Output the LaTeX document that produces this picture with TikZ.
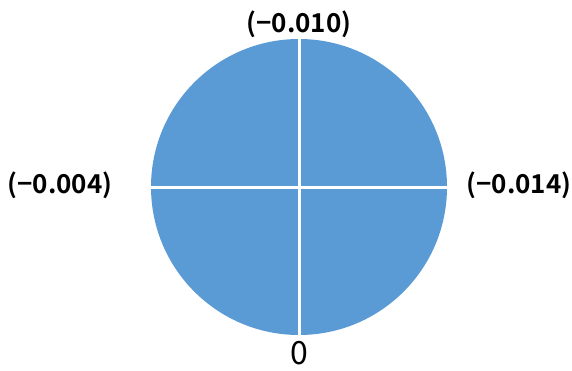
\documentclass[tikz,border=0pt]{standalone}
\usepackage{fontspec}
\newfontfamily\jpfont{Noto Sans CJK JP}[BoldFont={Noto Sans CJK JP Bold}]
\definecolor{pieblue}{HTML}{5B9BD5}
\begin{document}
\begin{tikzpicture}[x=1pt,y=-1pt,
  lbl/.style={font=\jpfont\bfseries\fontsize{26}{28}\selectfont, inner sep=0pt, text=black},
  zlbl/.style={font=\jpfont\fontsize{32}{34}\selectfont, inner sep=0pt, text=black}]
\useasboundingbox (0,0) rectangle (572,370);
\coordinate (c) at (299,187);
\fill[pieblue] (c) circle (148);
\coordinate (t) at (299,39);
\coordinate (b) at (299,335);
\coordinate (l) at (151,187);
\coordinate (r) at (447,187);
\draw[white, line width=3pt] (t) -- (b);
\draw[white, line width=3pt] (l) -- (r);
\node[lbl] (top) at (299,24) {(−0.010)};
\node[lbl] (left) at (60,185) {(−0.004)};
\node[lbl] (right) at (519,185) {(−0.014)};
\node[zlbl] (zero) at (299,353) {0};
\end{tikzpicture}
\end{document}
